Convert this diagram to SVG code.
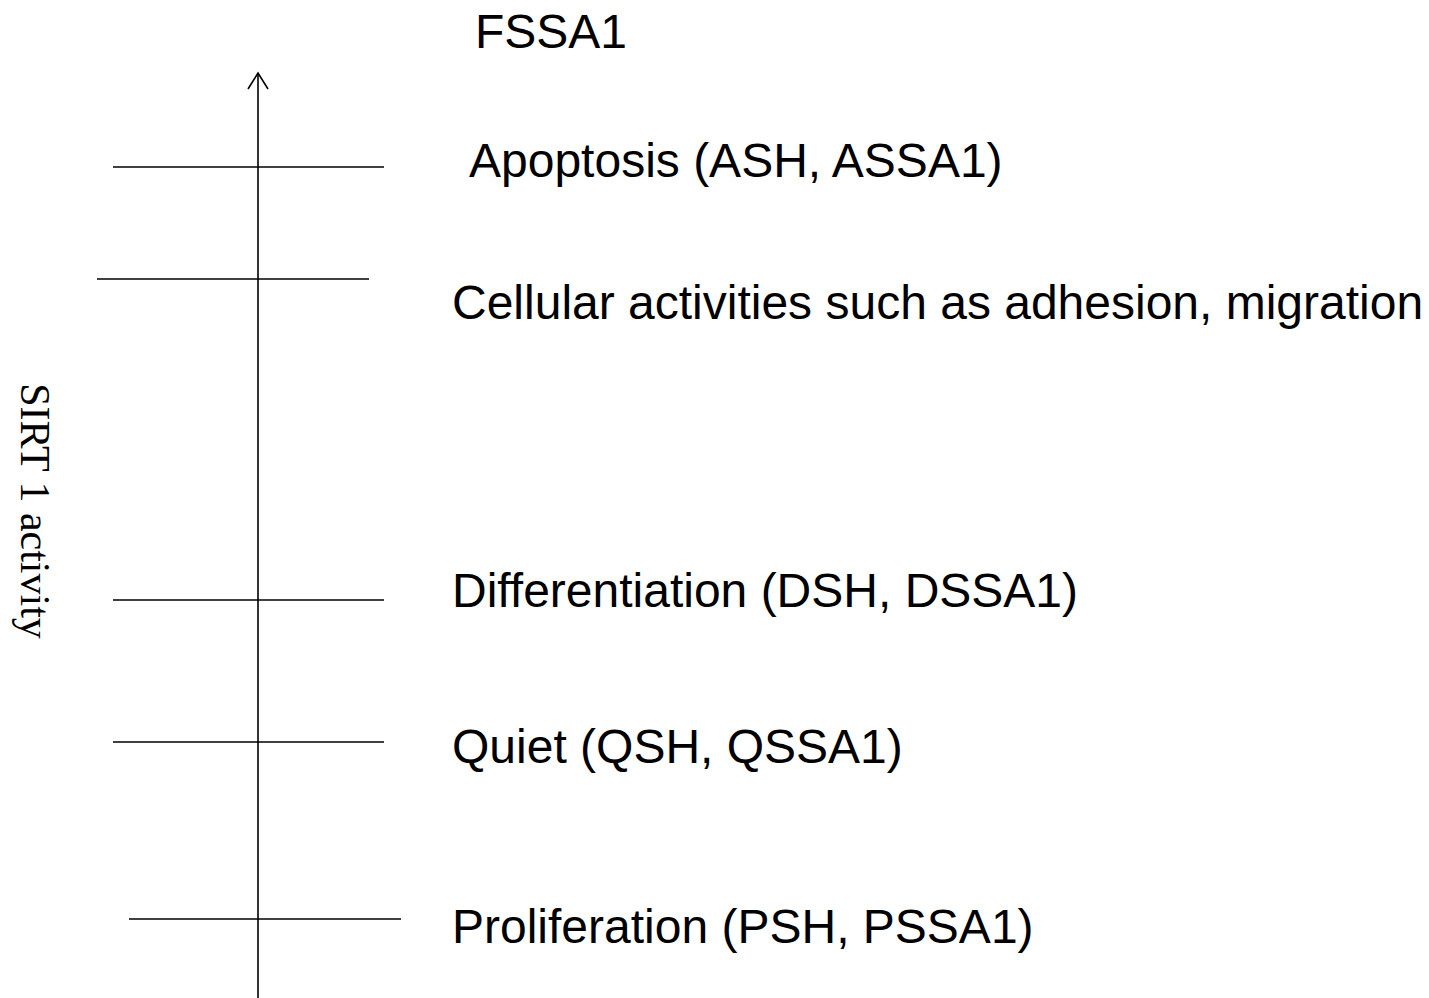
<svg xmlns="http://www.w3.org/2000/svg" width="1429" height="998" viewBox="0 0 1429 998">
<style>
.lbl{font-family:"Liberation Sans",Arial,sans-serif;font-size:48px;fill:#000}
.ax{font-family:"Liberation Serif","Times New Roman",serif;font-size:42px;fill:#000}
line{stroke:#000;stroke-width:1.6;fill:none}
</style>
<rect width="1429" height="998" fill="#fff"/>
<g id="connectors">
<line x1="258" y1="998" x2="258" y2="73"/>
<polyline points="248,89 258,73 268,89" style="stroke:#000;stroke-width:1.6;fill:none"/>
<line x1="113" y1="167" x2="384" y2="167"/>
<line x1="97" y1="279" x2="369" y2="279"/>
<line x1="113" y1="600" x2="384" y2="600"/>
<line x1="113" y1="742" x2="384" y2="742"/>
<line x1="129" y1="919" x2="401" y2="919"/>
</g>
<g id="axis-label"><text class="ax" transform="translate(21,511) rotate(90)" text-anchor="middle">SIRT 1 activity</text></g>
<g id="fssa1"><text class="lbl" x="475" y="48">FSSA1</text></g>
<g id="apoptosis"><text class="lbl" x="469" y="177">Apoptosis (ASH, ASSA1)</text></g>
<g id="cellular"><text class="lbl" x="452" y="319">Cellular activities such as adhesion, migration</text></g>
<g id="differentiation"><text class="lbl" x="452" y="607">Differentiation (DSH, DSSA1)</text></g>
<g id="quiet"><text class="lbl" x="452" y="763">Quiet (QSH, QSSA1)</text></g>
<g id="proliferation"><text class="lbl" x="452" y="943">Proliferation (PSH, PSSA1)</text></g>
</svg>
